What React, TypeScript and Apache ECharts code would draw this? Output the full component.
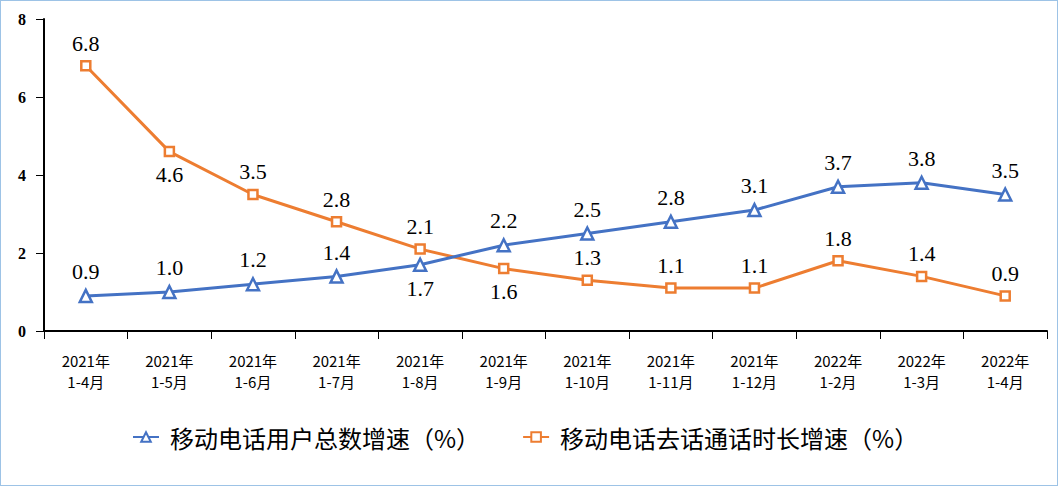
import React, { useEffect, useRef } from "react";
import * as echarts from "echarts";

const categories = [
  "2021年\n1-4月", "2021年\n1-5月", "2021年\n1-6月", "2021年\n1-7月",
  "2021年\n1-8月", "2021年\n1-9月", "2021年\n1-10月", "2021年\n1-11月",
  "2021年\n1-12月", "2022年\n1-2月", "2022年\n1-3月", "2022年\n1-4月",
];
const userGrowth = [0.9, 1.0, 1.2, 1.4, 1.7, 2.2, 2.5, 2.8, 3.1, 3.7, 3.8, 3.5];
const callGrowth = [6.8, 4.6, 3.5, 2.8, 2.1, 1.6, 1.3, 1.1, 1.1, 1.8, 1.4, 0.9];
const userLabelPos = ["top", "top", "top", "top", "bottom", "top", "top", "top", "top", "top", "top", "top"];
const callLabelPos = ["top", "bottom", "top", "top", "top", "bottom", "top", "top", "top", "top", "top", "top"];
const seriesNames = ["移动电话用户总数增速（%）", "移动电话去话通话时长增速（%）"];

const BLUE = "#4472C4";
const ORANGE = "#ED7D31";

export default function App() {
  const ref = useRef<HTMLDivElement>(null);
  useEffect(() => {
    document.body.style.margin = "0";
    const chart = echarts.init(ref.current!, null, { renderer: "svg" });
    const labelFont = { fontFamily: "Liberation Serif", fontSize: 22, color: "#000" };
    chart.setOption({
      animation: false,
      backgroundColor: "#fff",
      grid: { left: 43, right: 10, top: 18, bottom: 154, containLabel: false },
      legend: {
        top: 419,
        left: 126,
        itemWidth: 26,
        itemHeight: 12,
        itemGap: 42,
        textStyle: { fontFamily: "Noto Sans CJK SC", fontSize: 24, color: "#000", padding: [0, 0, 0, 6] },
        data: seriesNames,
      },
      xAxis: {
        type: "category",
        data: categories,
        boundaryGap: true,
        axisLine: { lineStyle: { color: "#000", width: 2 } },
        axisTick: { show: true, length: 8, alignWithLabel: false, lineStyle: { color: "#000" } },
        axisLabel: {
          interval: 0,
          margin: 19,
          lineHeight: 21,
          fontFamily: "Noto Sans CJK SC",
          fontSize: 15,
          color: "#000",
        },
      },
      yAxis: {
        type: "value",
        min: 0,
        max: 8,
        interval: 2,
        splitLine: { show: false },
        axisLine: { show: true, lineStyle: { color: "#000", width: 2 } },
        axisTick: { show: true, length: 8, lineStyle: { color: "#000" } },
        axisLabel: {
          margin: 18,
          fontFamily: "Liberation Serif",
          fontSize: 16,
          fontWeight: "bold",
          color: "#000",
        },
      },
      series: [
        {
          name: seriesNames[0],
          type: "line",
          data: userGrowth.map((v, i) => ({ value: v, label: { position: userLabelPos[i] } })),
          symbol: "triangle",
          symbolSize: 12,
          lineStyle: { color: BLUE, width: 3 },
          itemStyle: { color: "#fff", borderColor: BLUE, borderWidth: 2.5 },
          label: { show: true, distance: 6, formatter: (p: any) => p.value.toFixed(1), ...labelFont },
          z: 3,
        },
        {
          name: seriesNames[1],
          type: "line",
          data: callGrowth.map((v, i) => ({ value: v, label: { position: callLabelPos[i] } })),
          symbol: "rect",
          symbolSize: 9,
          lineStyle: { color: ORANGE, width: 3 },
          itemStyle: { color: "#fff", borderColor: ORANGE, borderWidth: 2.5 },
          label: { show: true, distance: 6, formatter: (p: any) => p.value.toFixed(1), ...labelFont },
          z: 2,
        },
      ],
    });
    return () => chart.dispose();
  }, []);
  return (
    <div
      style={{
        position: "absolute",
        left: 0,
        top: 0,
        width: 1058,
        height: 486,
        boxSizing: "border-box",
        border: "1px solid #9DC3E6",
      }}
    >
      <div ref={ref} style={{ width: 1056, height: 484 }} />
    </div>
  );
}
